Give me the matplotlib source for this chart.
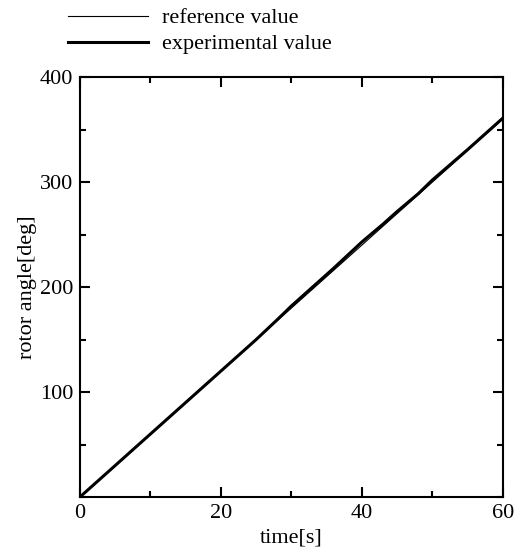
import matplotlib
matplotlib.use("Agg")
import matplotlib.pyplot as plt
from matplotlib.ticker import MultipleLocator

# 数据
ref_t = [0, 60]
ref_angle = [0, 360]
exp_t = [0, 5, 10, 15, 20, 25, 28, 30, 33, 36, 40, 43, 45, 48, 50, 55, 60]
exp_angle = [0, 30, 60, 90, 120, 150, 169, 182, 200, 218, 243, 260, 272, 289, 302, 331, 361]

plt.rcParams['font.family'] = ['Liberation Serif', 'DejaVu Serif']
plt.rcParams['font.size'] = 16

fig = plt.figure(figsize=(5.26, 5.55), dpi=100)
ax = fig.add_axes([0.152, 0.1045, 0.804, 0.7565])

l1, = ax.plot(ref_t, ref_angle, color='black', lw=0.8)
l2, = ax.plot(exp_t, exp_angle, color='black', lw=2.2)

ax.set_xlim(0, 60)
ax.set_ylim(0, 400)
ax.xaxis.set_major_locator(MultipleLocator(20))
ax.xaxis.set_minor_locator(MultipleLocator(10))
ax.yaxis.set_major_locator(MultipleLocator(100))
ax.yaxis.set_minor_locator(MultipleLocator(50))
ax.set_yticks([100, 200, 300, 400])
ax.tick_params(which='both', direction='in', top=True, right=True, width=1.5)
ax.tick_params(which='major', length=7, pad=5)
ax.tick_params(which='minor', length=4)
for s in ax.spines.values():
    s.set_linewidth(1.5)

ax.set_xlabel('time[s]', labelpad=4)
ax.set_ylabel('rotor angle[deg]', labelpad=2)

fig.legend([l1, l2], ['reference value', 'experimental value'],
           loc='upper left', bbox_to_anchor=(0.091, 1.022), frameon=False,
           handlelength=3.6, handletextpad=0.65, labelspacing=0.25)

fig.savefig('out.png', dpi=100)
